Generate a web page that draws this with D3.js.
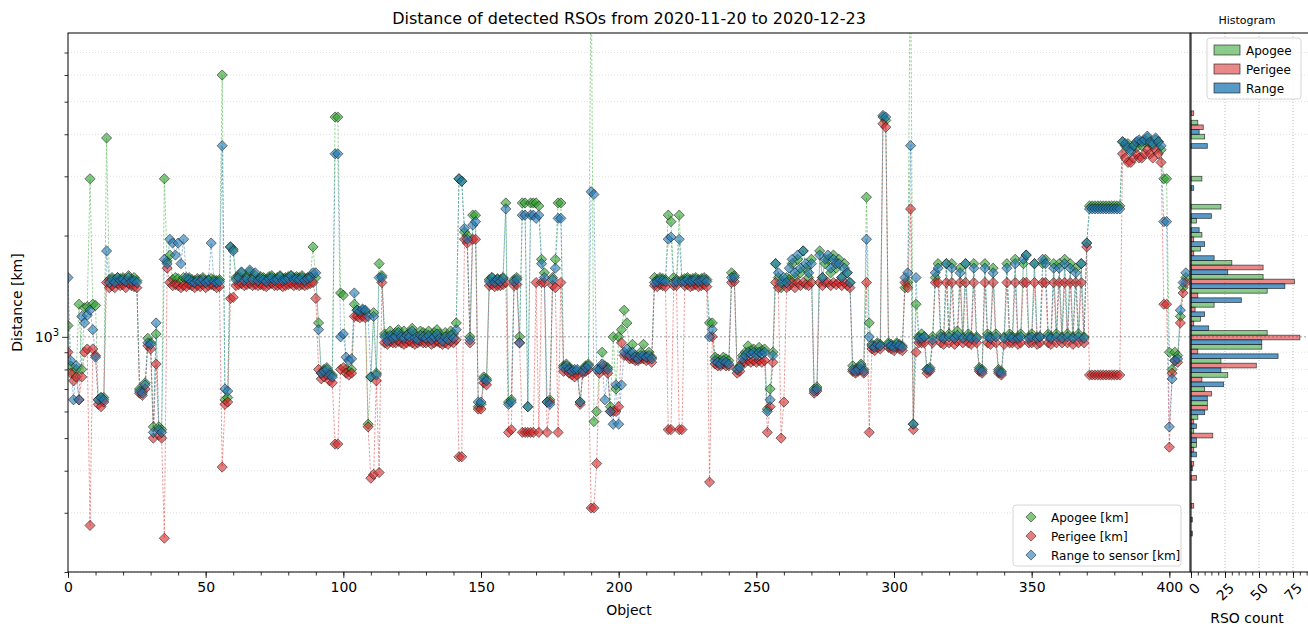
<!DOCTYPE html>
<html>
<head>
<meta charset="utf-8">
<script src="https://cdn.jsdelivr.net/npm/d3@7"></script>
<style>
	body { margin: 0; background: #fff; }
	text { font-family: "DejaVu Sans", sans-serif; }
</style>
</head>
<body>
<script>
(function () {
	"use strict";

	// distances per object [km], 10 objects per row
	var apogee = [
		1080, 820, 780, 800, 1250, 800, 1220, 1230, 2950, 1250,
		1240, 650, 660, 660, 3900, 1480, 1500, 1480, 1500, 1490,
		1500, 1480, 1520, 1480, 1500, 1470, 700, 690, 730, 990,
		960, 540, 1020, 540, 530, 2950, 1680, 1750, 1480, 1500,
		1490, 1460, 1500, 1480, 1500, 1480, 1470, 1490, 1480, 1500,
		1470, 1480, 1490, 1480, 1470, 1480, 6000, 650, 660, 1850,
		1820, 1500, 1520, 1550, 1490, 1510, 1560, 1500, 1520, 1490,
		1510, 1500, 1480, 1510, 1520, 1490, 1500, 1520, 1490, 1500,
		1510, 1520, 1500, 1510, 1500, 1520, 1490, 1500, 1510, 1850,
		1500, 1100, 780, 800, 810, 780, 770, 4500, 4500, 1350,
		1330, 800, 790, 800, 1250, 1200, 1180, 1200, 1190, 550,
		760, 1180, 780, 1650, 1520, 1020, 1000, 1040, 1010, 1030,
		1050, 1020, 1040, 1010, 1030, 1060, 1020, 1000, 1040, 1030,
		1020, 1040, 1010, 1030, 1050, 1020, 1000, 1030, 1010, 1040,
		1020, 1100, 2950, 2900, 2050, 2000, 1000, 2300, 2300, 620,
		630, 760, 750, 1480, 1500, 1470, 1490, 1480, 1500, 2500,
		640, 650, 1480, 1500, 1000, 2500, 2500, 620, 2500, 2500,
		2500, 2450, 1700, 1550, 640, 650, 1500, 1700, 2500, 2500,
		820, 830, 810, 800, 780, 790, 640, 800, 820, 830,
		15000, 560, 600, 800, 900, 820, 810, 620, 1000, 700,
		1000, 1050, 1200, 1100, 900, 950, 880, 870, 900, 950,
		880, 900, 870, 1500, 1480, 1500, 1490, 1480, 2300, 2200,
		1500, 1480, 2300, 1480, 1490, 1500, 1480, 1490, 1500, 1480,
		1490, 1500, 1480, 1100, 1100, 870, 860, 850, 870, 860,
		850, 1550, 1520, 800, 820, 880, 900, 940, 910, 920,
		900, 930, 910, 920, 610, 700, 900, 1650, 1500, 1400,
		1450, 1500, 1480, 1650, 1500, 1700, 1550, 1800, 1600, 1500,
		1700, 700, 710, 1800, 1500, 1650, 1700, 1550, 1750, 1600,
		1700, 1500, 1650, 1550, 1450, 820, 800, 810, 830, 800,
		2600, 1100, 950, 940, 960, 950, 4500, 4400, 960, 950,
		940, 960, 950, 940, 1400, 1450, 15000, 550, 1250, 1000,
		1020, 1000, 800, 810, 1000, 1500, 1650, 1020, 1000, 1650,
		1020, 1650, 1000, 1040, 1600, 1000, 1650, 1020, 1000, 1650,
		1000, 810, 800, 1650, 1020, 1000, 1600, 1020, 800, 790,
		1000, 1650, 1020, 1000, 1700, 1000, 1020, 1650, 1750, 1000,
		1020, 1650, 1000, 1000, 1650, 1700, 1020, 1000, 1650, 1020,
		1650, 1000, 1700, 1020, 1650, 1000, 1600, 1020, 1650, 1000,
		1900, 2450, 2450, 2450, 2450, 2450, 2450, 2450, 2450, 2450,
		2450, 2450, 2450, 3800, 3700, 3750, 3600, 3700, 3650, 3800,
		3700, 3800, 3900, 3750, 3700, 3850, 3800, 3600, 2950, 2950,
		900, 800, 900, 880, 1150, 1400, 1500
	];

	var perigee = [
		900, 780, 740, 760, 650, 760, 900, 920, 275, 920,
		880, 630, 620, 640, 1450, 1400, 1420, 1400, 1440, 1420,
		1430, 1400, 1440, 1420, 1410, 1400, 680, 670, 700, 940,
		920, 500, 830, 510, 500, 252, 1600, 1450, 1420, 1430,
		1420, 1400, 1420, 1410, 1430, 1420, 1400, 1420, 1410, 1430,
		1400, 1420, 1430, 1420, 1400, 1410, 410, 630, 640, 1300,
		1310, 1420, 1430, 1440, 1420, 1430, 1440, 1420, 1430, 1420,
		1430, 1420, 1410, 1430, 1440, 1420, 1420, 1430, 1410, 1420,
		1430, 1440, 1420, 1430, 1420, 1430, 1420, 1430, 1440, 1450,
		1300, 800, 750, 760, 770, 740, 730, 480, 480, 800,
		810, 780, 770, 780, 1150, 1150, 1140, 1150, 1140, 540,
		380, 390, 740, 395, 1450, 960, 950, 970, 960, 960,
		970, 960, 950, 960, 970, 960, 950, 960, 970, 960,
		960, 970, 950, 960, 970, 960, 950, 960, 950, 970,
		960, 980, 440, 440, 1950, 1900, 960, 1950, 1950, 610,
		610, 730, 720, 1420, 1430, 1410, 1420, 1420, 1430, 1450,
		520, 530, 1420, 1430, 960, 520, 520, 520, 520, 520,
		1450, 520, 1450, 1450, 520, 640, 1420, 1400, 520, 1450,
		790, 800, 780, 770, 760, 770, 630, 780, 790, 800,
		310, 310, 420, 780, 820, 800, 780, 600, 600, 600,
		620, 960, 880, 880, 860, 860, 850, 850, 860, 860,
		850, 860, 840, 1420, 1410, 1430, 1420, 1410, 530, 530,
		1420, 1420, 530, 530, 1420, 1430, 1410, 1420, 1430, 1410,
		1420, 1430, 1410, 370, 1000, 830, 820, 820, 830, 820,
		820, 1450, 1460, 780, 790, 840, 840, 850, 840, 850,
		840, 850, 840, 850, 520, 620, 840, 1450, 1400, 500,
		640, 1400, 1420, 1450, 1400, 1450, 1420, 1450, 1430, 1420,
		1450, 680, 690, 1450, 1420, 1450, 1450, 1420, 1450, 1430,
		1450, 1420, 1450, 1420, 1400, 790, 780, 790, 800, 780,
		1450, 520, 920, 910, 930, 920, 4300, 4200, 930, 920,
		910, 930, 920, 910, 1450, 1400, 2400, 530, 900, 960,
		960, 960, 780, 790, 960, 1450, 1450, 960, 950, 1450,
		960, 1450, 950, 970, 1450, 960, 1450, 960, 950, 1450,
		960, 790, 780, 1450, 960, 950, 1450, 960, 780, 770,
		950, 1450, 960, 960, 1450, 950, 960, 1450, 1450, 960,
		960, 1450, 950, 960, 1450, 1450, 960, 950, 1450, 960,
		1450, 960, 1450, 960, 1450, 950, 1450, 960, 1450, 960,
		1850, 770, 770, 770, 770, 770, 770, 770, 770, 770,
		770, 770, 770, 3500, 3400, 3300, 3300, 3400, 3500, 3400,
		3400, 3500, 3600, 3500, 3400, 3600, 3500, 3300, 1250, 1250,
		470, 780, 850, 840, 1100, 1350, 1450
	];

	var range = [
		1500, 850, 650, 820, 650, 1150, 1100, 1160, 1200, 1050,
		870, 650, 660, 650, 1800, 1450, 1480, 1450, 1500, 1470,
		1480, 1460, 1500, 1460, 1470, 1450, 690, 680, 720, 960,
		950, 520, 1100, 530, 520, 1700, 1650, 1950, 1900, 1750,
		1900, 1650, 1950, 1500, 1480, 1460, 1450, 1470, 1460, 1480,
		1450, 1470, 1900, 1460, 1450, 1460, 3700, 700, 690, 1850,
		1800, 1480, 1500, 1560, 1470, 1490, 1580, 1480, 1550, 1470,
		1490, 1480, 1460, 1490, 1500, 1470, 1480, 1510, 1470, 1480,
		1490, 1520, 1480, 1490, 1480, 1500, 1470, 1490, 1500, 1550,
		1550, 1050, 780, 790, 800, 770, 760, 3500, 3500, 1000,
		1020, 870, 850, 860, 1350, 1200, 1190, 1210, 1200, 1150,
		760, 1150, 770, 1500, 1500, 1000, 970, 1010, 990, 1000,
		1030, 1000, 990, 1010, 1000, 1040, 990, 980, 1010, 1000,
		990, 1010, 980, 1000, 1020, 990, 970, 1000, 980, 1010,
		990, 1050, 2950, 2900, 2100, 1950, 980, 2150, 2200, 640,
		640, 750, 740, 1460, 1500, 1450, 1480, 1460, 1490, 2400,
		630, 640, 1460, 1480, 960, 2300, 2300, 620, 2300, 2300,
		2250, 2300, 1650, 1500, 640, 630, 1480, 1600, 2250, 2250,
		810, 820, 800, 790, 800, 800, 640, 790, 810, 820,
		2700, 2650, 800, 800, 830, 650, 800, 600, 550, 720,
		550, 720, 900, 920, 880, 900, 870, 860, 880, 880,
		870, 880, 860, 1450, 1460, 1480, 1470, 1460, 1950, 1980,
		1450, 1460, 1950, 1460, 1460, 1480, 1460, 1470, 1480, 1460,
		1470, 1480, 1460, 1000, 1050, 850, 840, 830, 850, 840,
		830, 1500, 1500, 800, 810, 860, 880, 900, 890, 900,
		880, 900, 890, 900, 600, 650, 880, 1650, 1550, 1450,
		1500, 1450, 1600, 1700, 1550, 1750, 1600, 1800, 1650, 1550,
		1650, 690, 700, 1750, 1500, 1700, 1750, 1600, 1700, 1650,
		1650, 1500, 1600, 1550, 1450, 800, 790, 800, 820, 790,
		1950, 1000, 940, 930, 950, 940, 4550, 4500, 950, 940,
		930, 950, 940, 930, 1500, 1550, 3700, 550, 1500, 990,
		990, 1000, 800, 800, 980, 1550, 1600, 1000, 990, 1650,
		1000, 1600, 990, 1010, 1550, 990, 1650, 1000, 990, 1600,
		990, 800, 790, 1600, 1000, 990, 1550, 1000, 790, 780,
		990, 1600, 1000, 990, 1650, 990, 1000, 1700, 1750, 990,
		1000, 1650, 990, 1000, 1700, 1650, 1000, 990, 1600, 1000,
		1600, 990, 1650, 1000, 1600, 990, 1550, 1000, 1650, 990,
		1900, 2400, 2400, 2400, 2400, 2400, 2400, 2400, 2400, 2400,
		2400, 2400, 2400, 3800, 3750, 3650, 3550, 3700, 3800, 3850,
		3800, 3850, 3950, 3800, 3750, 3900, 3800, 3700, 2200, 2200,
		540, 750, 850, 860, 1200, 1450, 1550
	];

	// histogram: bin edges [km] from top to bottom, counts per bin
	var histEdges = [4847, 4402, 4000, 3634, 3302, 3000, 2725, 2476, 2250, 2044,
		1857, 1687, 1532, 1392, 1265, 1149, 1044, 949, 862, 783,
		711, 646, 587, 534, 485, 440, 400, 363, 330, 300, 273, 248];
	var histApogee = [0, 5, 10, 0, 0, 8, 0, 22, 4, 8, 7, 30, 53, 56, 17, 7,
		56, 52, 22, 27, 10, 12, 5, 2, 4, 0, 0, 0, 0, 0, 0];
	var histPerigee = [2, 9, 0, 0, 0, 0, 0, 0, 0, 2, 2, 53, 76, 5, 3, 2,
		80, 5, 48, 8, 15, 12, 2, 16, 2, 2, 4, 0, 2, 1, 1];
	var histRange = [0, 6, 12, 0, 0, 2, 0, 15, 6, 10, 17, 27, 69, 37, 10, 13,
		52, 64, 22, 24, 12, 10, 4, 4, 4, 1, 0, 0, 0, 0, 0];

	var xTicks = [0, 50, 100, 150, 200, 250, 300, 350, 400];
	var yMinor = [200, 300, 400, 500, 600, 700, 800, 900, 2000, 3000, 4000, 5000, 6000, 7000];
	var hTicks = [0, 25, 50, 75];

	var seriesNames = ["Apogee [km]", "Perigee [km]", "Range to sensor [km]"];
	var histNames = ["Apogee", "Perigee", "Range"];
	var colors = ["#2ca02c", "#d62728", "#1f77b4"];

	var w = 1308, h = 628;
	var left = 68, right = 1190, top = 33, bottom = 572;
	var hLeft = 1191, hRight = 1308;

	var svg = d3.select("body").append("svg")
		.attr("width", w)
		.attr("height", h);

	// Scales
	var xScale = d3.scaleLinear().domain([0, 407.5]).range([left, right]);
	var yScale = d3.scaleLog().domain([200, 8000]).range([bottom, top]);
	var hScale = d3.scaleLinear().domain([0, 86]).range([hLeft, hRight]);

	svg.append("defs").append("clipPath").attr("id", "clipMain")
		.append("rect").attr("x", left).attr("y", top)
		.attr("width", right - left).attr("height", bottom - top);

	// grid lines (main + histogram)
	svg.append("g").selectAll("line").data(yMinor).enter().append("line")
		.attr("x1", left).attr("x2", hRight)
		.attr("y1", (d) => yScale(d)).attr("y2", (d) => yScale(d))
		.attr("stroke", "#d9d9d9").attr("stroke-width", 0.8)
		.attr("stroke-dasharray", "1,2");
	svg.append("line")
		.attr("x1", left).attr("x2", hRight)
		.attr("y1", yScale(1000)).attr("y2", yScale(1000))
		.attr("stroke", "#888").attr("stroke-width", 0.8)
		.attr("stroke-dasharray", "2,2");
	svg.append("g").selectAll("line").data(hTicks.slice(1)).enter().append("line")
		.attr("x1", (d) => hScale(d)).attr("x2", (d) => hScale(d))
		.attr("y1", top).attr("y2", bottom)
		.attr("stroke", "#aaa").attr("stroke-width", 0.8)
		.attr("stroke-dasharray", "1,2");

	// Lines and markers
	var plot = svg.append("g").attr("clip-path", "url(#clipMain)");
	var allSeries = [apogee, perigee, range];

	allSeries.forEach(function (ds, i) {
		var lineFun = d3.line()
			.x((d, k) => xScale(k))
			.y((d) => yScale(d));
		plot.append("path")
			.attr("d", lineFun(ds))
			.attr("fill", "none")
			.attr("stroke", colors[i])
			.attr("stroke-opacity", 0.6)
			.attr("stroke-width", 0.8)
			.attr("stroke-dasharray", "2.5,1.5");
	});

	var diamond = d3.symbol().type(d3.symbolSquare).size(52);

	allSeries.forEach(function (ds, i) {
		plot.append("g").selectAll("path").data(ds).enter().append("path")
			.attr("d", diamond)
			.attr("transform", (d, k) => "translate(" + xScale(k) + "," + yScale(d) + ") rotate(45)")
			.attr("fill", colors[i])
			.attr("fill-opacity", 0.6)
			.attr("stroke", "#1a1a1a")
			.attr("stroke-opacity", 0.65)
			.attr("stroke-width", 0.8);
	});

	// Histogram bars
	var hist = svg.append("g");
	[histApogee, histPerigee, histRange].forEach(function (counts, i) {
		var rows = counts.map((c, k) => ({ c: c, k: k })).filter((d) => d.c > 0);
		hist.append("g").selectAll("rect").data(rows).enter().append("rect")
			.attr("x", hScale(0))
			.attr("y", function (d) {
				var y0 = yScale(histEdges[d.k]);
				var y1 = yScale(histEdges[d.k + 1]);
				return y0 + i * (y1 - y0) / 3;
			})
			.attr("width", (d) => hScale(d.c) - hScale(0))
			.attr("height", function (d) {
				return (yScale(histEdges[d.k + 1]) - yScale(histEdges[d.k])) / 3;
			})
			.attr("fill", colors[i])
			.attr("fill-opacity", i == 2 ? 0.75 : 0.55)
			.attr("stroke", "#1a1a1a")
			.attr("stroke-opacity", 0.75)
			.attr("stroke-width", 0.8);
	});

	// Axis
	var xAxisGen = d3.axisBottom(xScale).tickValues(xTicks).tickSize(6).tickPadding(4);
	var xMinorGen = d3.axisBottom(xScale).tickValues(d3.range(0, 408, 10)).tickSize(3.5).tickFormat("");
	var yMajorGen = d3.axisLeft(yScale).tickValues([1000]).tickSize(6).tickFormat("");
	var yMinorGen = d3.axisLeft(yScale).tickValues(yMinor).tickSize(3.5).tickFormat("");
	var hAxisGen = d3.axisBottom(hScale).tickValues(hTicks).tickSize(6).tickFormat("");
	var hMinorGen = d3.axisBottom(hScale).tickValues(d3.range(0, 86, 5)).tickSize(3.5).tickFormat("");

	[xAxisGen, xMinorGen, hAxisGen, hMinorGen].forEach(function (g) {
		svg.append("g").attr("class", "axis")
			.attr("transform", "translate(0," + bottom + ")").call(g);
	});
	[yMajorGen, yMinorGen].forEach(function (g) {
		svg.append("g").attr("class", "axis")
			.attr("transform", "translate(" + left + ",0)").call(g);
	});
	svg.selectAll(".axis .domain").remove();
	svg.selectAll(".axis line").attr("stroke", "#000").attr("stroke-width", 0.8);
	svg.selectAll(".axis text").attr("font-size", 14).attr("fill", "#000")
		.attr("font-family", "DejaVu Sans");

	// rotated histogram tick labels
	svg.append("g").selectAll("text").data(hTicks).enter().append("text")
		.attr("transform", (d) => "translate(" + (hScale(d) + 3) + "," + (bottom + 10) + ") rotate(-45)")
		.attr("text-anchor", "end")
		.attr("dy", "0.7em")
		.attr("font-size", 14)
		.text((d) => d);

	// y major label 10^3
	var yl = svg.append("text")
		.attr("x", left - 9).attr("y", yScale(1000) + 5)
		.attr("text-anchor", "end").attr("font-size", 14);
	yl.append("tspan").text("10");
	yl.append("tspan").attr("font-size", 10).attr("dy", -6).text("3");

	// frames
	svg.append("rect").attr("x", left).attr("y", top)
		.attr("width", right - left).attr("height", bottom - top)
		.attr("fill", "none").attr("stroke", "#000").attr("stroke-width", 1);
	svg.append("line").attr("x1", right).attr("x2", hRight).attr("y1", top).attr("y2", top)
		.attr("stroke", "#000").attr("stroke-width", 1);
	svg.append("line").attr("x1", right).attr("x2", hRight).attr("y1", bottom).attr("y2", bottom)
		.attr("stroke", "#000").attr("stroke-width", 1);
	svg.append("line").attr("x1", hLeft).attr("x2", hLeft).attr("y1", top).attr("y2", bottom)
		.attr("stroke", "#000").attr("stroke-width", 1);

	// titles and labels
	svg.append("text").attr("x", (left + right) / 2).attr("y", 24)
		.attr("text-anchor", "middle").attr("font-size", 16)
		.text("Distance of detected RSOs from 2020-11-20 to 2020-12-23");
	svg.append("text").attr("x", 1247).attr("y", 24)
		.attr("text-anchor", "middle").attr("font-size", 11)
		.text("Histogram");
	svg.append("text").attr("x", (left + right) / 2).attr("y", 615)
		.attr("text-anchor", "middle").attr("font-size", 14)
		.text("Object");
	svg.append("text").attr("x", 1247).attr("y", 623)
		.attr("text-anchor", "middle").attr("font-size", 14)
		.text("RSO count");
	svg.append("text")
		.attr("transform", "translate(22," + ((top + bottom) / 2) + ") rotate(-90)")
		.attr("text-anchor", "middle").attr("font-size", 14)
		.text("Distance [km]");

	// legend (main)
	var lg = svg.append("g").attr("transform", "translate(1013,505)");
	lg.append("rect").attr("width", 168).attr("height", 61).attr("rx", 3)
		.attr("fill", "#fff").attr("fill-opacity", 0.8)
		.attr("stroke", "#ccc").attr("stroke-width", 0.8);
	seriesNames.forEach(function (name, i) {
		var y = 12 + i * 19;
		lg.append("path").attr("d", diamond)
			.attr("transform", "translate(18," + y + ") rotate(45)")
			.attr("fill", colors[i]).attr("fill-opacity", 0.6)
			.attr("stroke", "#1a1a1a").attr("stroke-opacity", 0.65).attr("stroke-width", 0.8);
		lg.append("text").attr("x", 38).attr("y", y + 4.5)
			.attr("font-size", 12).text(name);
	});

	// legend (histogram)
	var hl = svg.append("g").attr("transform", "translate(1207,38)");
	hl.append("rect").attr("width", 94).attr("height", 61).attr("rx", 3)
		.attr("fill", "#fff").attr("fill-opacity", 0.8)
		.attr("stroke", "#ccc").attr("stroke-width", 0.8);
	histNames.forEach(function (name, i) {
		var y = 12 + i * 19;
		hl.append("rect").attr("x", 7).attr("y", y - 5).attr("width", 26).attr("height", 10)
			.attr("fill", colors[i]).attr("fill-opacity", i == 2 ? 0.75 : 0.55)
			.attr("stroke", "#1a1a1a").attr("stroke-opacity", 0.75).attr("stroke-width", 0.8);
		hl.append("text").attr("x", 39).attr("y", y + 4.5)
			.attr("font-size", 12).text(name);
	});
})();
</script>
</body>
</html>
